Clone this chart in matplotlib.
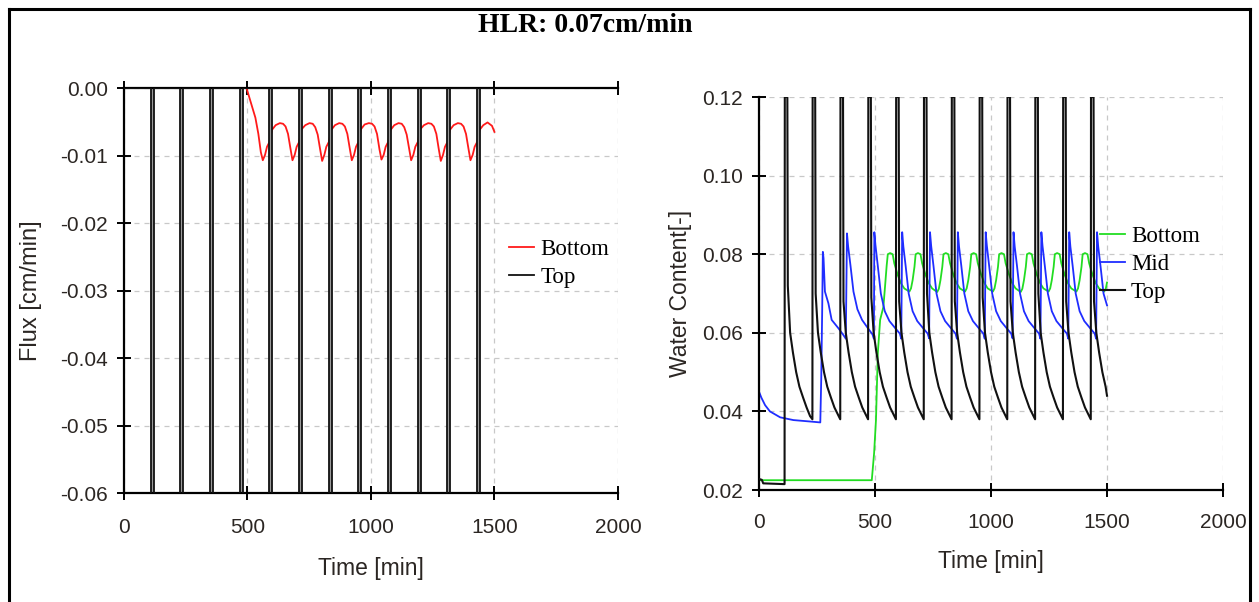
import matplotlib

matplotlib.use("Agg")
import matplotlib.pyplot as plt
from matplotlib.lines import Line2D
from matplotlib.ticker import FormatStrFormatter, MultipleLocator


COLORS = {
    "bottom_flux": "#ff1a1a",
    "top": "#111111",
    "pulse_fill": "#9a9a9a",
    "bottom_wc": "#22dd22",
    "mid_wc": "#1f2dff",
    "grid": "#c8c8c8",
    "text": "#2b2623",
}

TITLE = "HLR: 0.07cm/min"

# left panel: flux [cm/min] vs time [min]
TOP_FLUX_T = [
    0,
    110, 110, 122, 122,
    230, 230, 242, 242,
    350, 350, 362, 362,
    470, 470, 482, 482,
    590, 590, 602, 602,
    710, 710, 722, 722,
    830, 830, 842, 842,
    950, 950, 962, 962,
    1070, 1070, 1082, 1082,
    1190, 1190, 1202, 1202,
    1310, 1310, 1322, 1322,
    1430, 1430, 1442, 1442,
    1500,
]
TOP_FLUX_Q = [
    0.0,
    0.0, -0.07, -0.07, 0.0,
    0.0, -0.07, -0.07, 0.0,
    0.0, -0.07, -0.07, 0.0,
    0.0, -0.07, -0.07, 0.0,
    0.0, -0.07, -0.07, 0.0,
    0.0, -0.07, -0.07, 0.0,
    0.0, -0.07, -0.07, 0.0,
    0.0, -0.07, -0.07, 0.0,
    0.0, -0.07, -0.07, 0.0,
    0.0, -0.07, -0.07, 0.0,
    0.0, -0.07, -0.07, 0.0,
    0.0, -0.07, -0.07, 0.0,
    0.0,
]

BOTTOM_FLUX_T = [
    497, 515, 533, 545, 555, 563, 572, 580,
    590, 600, 615, 632, 645, 655, 665, 675, 683, 692, 700,
    710, 720, 735, 752, 765, 775, 785, 795, 803, 812, 820,
    830, 840, 855, 872, 885, 895, 905, 915, 923, 932, 940,
    950, 960, 975, 992, 1005, 1015, 1025, 1035, 1043, 1052, 1060,
    1070, 1080, 1095, 1112, 1125, 1135, 1145, 1155, 1163, 1172, 1180,
    1190, 1200, 1215, 1232, 1245, 1255, 1265, 1275, 1283, 1292, 1300,
    1310, 1320, 1335, 1352, 1365, 1375, 1385, 1395, 1403, 1412, 1420,
    1430, 1440, 1455, 1472, 1490, 1500,
]
BOTTOM_FLUX_Q = [
    0.0, -0.0022, -0.0044, -0.0068, -0.0095, -0.0107, -0.0099, -0.0087,
    -0.0080, -0.0062, -0.0055, -0.0052, -0.0053, -0.0057, -0.0068, -0.0090, -0.0107, -0.0099, -0.0087,
    -0.0080, -0.0061, -0.0055, -0.0052, -0.0053, -0.0058, -0.0069, -0.0091, -0.0108, -0.0099, -0.0087,
    -0.0080, -0.0062, -0.0055, -0.0052, -0.0053, -0.0057, -0.0068, -0.0090, -0.0107, -0.0099, -0.0087,
    -0.0080, -0.0061, -0.0054, -0.0052, -0.0053, -0.0057, -0.0068, -0.0091, -0.0106, -0.0099, -0.0087,
    -0.0080, -0.0062, -0.0055, -0.0052, -0.0053, -0.0058, -0.0069, -0.0090, -0.0107, -0.0099, -0.0087,
    -0.0080, -0.0061, -0.0055, -0.0052, -0.0053, -0.0057, -0.0068, -0.0091, -0.0108, -0.0099, -0.0087,
    -0.0080, -0.0062, -0.0055, -0.0052, -0.0053, -0.0057, -0.0068, -0.0090, -0.0107, -0.0099, -0.0087,
    -0.0080, -0.0062, -0.0055, -0.0051, -0.0056, -0.0065,
]

# right panel: water content [-] vs time [min]
TOP_WC_T = [
    0, 12, 18, 110, 111, 122, 124, 134, 146, 160, 174, 190, 205, 220,
    230, 231, 242, 244, 254, 266, 280, 294, 310, 325, 340,
    350, 351, 362, 364, 374, 386, 400, 414, 430, 445, 460,
    470, 471, 482, 484, 494, 506, 520, 534, 550, 565, 580,
    590, 591, 602, 604, 614, 626, 640, 654, 670, 685, 700,
    710, 711, 722, 724, 734, 746, 760, 774, 790, 805, 820,
    830, 831, 842, 844, 854, 866, 880, 894, 910, 925, 940,
    950, 951, 962, 964, 974, 986, 1000, 1014, 1030, 1045, 1060,
    1070, 1071, 1082, 1084, 1094, 1106, 1120, 1134, 1150, 1165, 1180,
    1190, 1191, 1202, 1204, 1214, 1226, 1240, 1254, 1270, 1285, 1300,
    1310, 1311, 1322, 1324, 1334, 1346, 1360, 1374, 1390, 1405, 1420,
    1430, 1431, 1442, 1444, 1454, 1466, 1480, 1494, 1500,
]
TOP_WC = [
    0.0228, 0.0226, 0.0217, 0.0215, 0.120, 0.120, 0.072, 0.060, 0.055, 0.050, 0.0463, 0.0435, 0.0410, 0.0388,
    0.0380, 0.120, 0.120, 0.070, 0.060, 0.055, 0.050, 0.0463, 0.0435, 0.0410, 0.0392,
    0.0380, 0.120, 0.120, 0.068, 0.060, 0.055, 0.050, 0.0463, 0.0435, 0.0410, 0.0392,
    0.0380, 0.120, 0.120, 0.069, 0.060, 0.055, 0.050, 0.0463, 0.0435, 0.0410, 0.0392,
    0.0380, 0.120, 0.120, 0.068, 0.060, 0.055, 0.050, 0.0463, 0.0435, 0.0410, 0.0392,
    0.0380, 0.120, 0.120, 0.070, 0.060, 0.055, 0.050, 0.0463, 0.0435, 0.0410, 0.0392,
    0.0380, 0.120, 0.120, 0.068, 0.060, 0.055, 0.050, 0.0463, 0.0435, 0.0410, 0.0392,
    0.0380, 0.120, 0.120, 0.069, 0.060, 0.055, 0.050, 0.0463, 0.0435, 0.0410, 0.0392,
    0.0380, 0.120, 0.120, 0.068, 0.060, 0.055, 0.050, 0.0463, 0.0435, 0.0410, 0.0392,
    0.0380, 0.120, 0.120, 0.070, 0.060, 0.055, 0.050, 0.0463, 0.0435, 0.0410, 0.0392,
    0.0380, 0.120, 0.120, 0.068, 0.060, 0.055, 0.050, 0.0463, 0.0435, 0.0410, 0.0392,
    0.0380, 0.120, 0.120, 0.068, 0.060, 0.055, 0.050, 0.0463, 0.0440,
]

MID_WC_T = [
    0, 10, 26, 47, 91, 148, 227, 264, 268, 272, 275, 278, 284, 299, 313, 343, 364, 374,
    379, 384, 394, 407, 424, 444, 469, 489, 495,
    497, 502, 512, 525, 542, 562, 587, 607, 613,
    617, 622, 632, 645, 662, 682, 707, 727, 733,
    737, 742, 752, 765, 782, 802, 827, 847, 853,
    857, 862, 872, 885, 902, 922, 947, 967, 973,
    977, 982, 992, 1005, 1022, 1042, 1067, 1087, 1093,
    1097, 1102, 1112, 1125, 1142, 1162, 1187, 1207, 1213,
    1217, 1222, 1232, 1245, 1262, 1282, 1307, 1327, 1333,
    1337, 1342, 1352, 1365, 1382, 1402, 1427, 1447, 1453,
    1457, 1462, 1472, 1485, 1500,
]
MID_WC = [
    0.0450, 0.0435, 0.0416, 0.0400, 0.0385, 0.0378, 0.0374, 0.0372, 0.0480, 0.0650, 0.0806, 0.0790,
    0.0705, 0.0675, 0.0633, 0.0611, 0.0594, 0.0585,
    0.0853, 0.0820, 0.0772, 0.0705, 0.0660, 0.0633, 0.0612, 0.0596, 0.0585,
    0.0856, 0.0822, 0.0770, 0.0700, 0.0655, 0.0630, 0.0612, 0.0598, 0.0585,
    0.0856, 0.0820, 0.0770, 0.0700, 0.0655, 0.0630, 0.0612, 0.0598, 0.0586,
    0.0856, 0.0821, 0.0770, 0.0700, 0.0655, 0.0630, 0.0612, 0.0598, 0.0585,
    0.0856, 0.0820, 0.0770, 0.0700, 0.0655, 0.0630, 0.0612, 0.0598, 0.0585,
    0.0856, 0.0822, 0.0770, 0.0700, 0.0655, 0.0630, 0.0612, 0.0598, 0.0586,
    0.0856, 0.0820, 0.0770, 0.0700, 0.0655, 0.0630, 0.0612, 0.0598, 0.0585,
    0.0856, 0.0821, 0.0770, 0.0700, 0.0655, 0.0630, 0.0612, 0.0598, 0.0585,
    0.0856, 0.0820, 0.0770, 0.0700, 0.0655, 0.0630, 0.0612, 0.0598, 0.0585,
    0.0856, 0.0820, 0.0770, 0.0700, 0.0670,
]

BOTTOM_WC_T = [
    0, 486, 496, 504, 512, 522, 536, 543, 550,
    555, 565, 576, 583, 598, 612, 626, 648, 655, 662, 670,
    675, 685, 696, 703, 718, 732, 746, 768, 775, 782, 790,
    795, 805, 816, 823, 838, 852, 866, 888, 895, 902, 910,
    915, 925, 936, 943, 958, 972, 986, 1008, 1015, 1022, 1030,
    1035, 1045, 1056, 1063, 1078, 1092, 1106, 1128, 1135, 1142, 1150,
    1155, 1165, 1176, 1183, 1198, 1212, 1226, 1248, 1255, 1262, 1270,
    1275, 1285, 1296, 1303, 1318, 1332, 1346, 1368, 1375, 1382, 1390,
    1395, 1405, 1416, 1423, 1438, 1452, 1466, 1488, 1495, 1500,
]
BOTTOM_WC = [
    0.0225, 0.0225, 0.0294, 0.0378, 0.0549, 0.0633, 0.0666, 0.0717, 0.0770,
    0.0800, 0.0803, 0.0800, 0.0777, 0.0747, 0.0726, 0.0713, 0.0705, 0.0713, 0.0734, 0.0768,
    0.0800, 0.0803, 0.0800, 0.0777, 0.0747, 0.0726, 0.0713, 0.0704, 0.0712, 0.0734, 0.0768,
    0.0800, 0.0803, 0.0800, 0.0778, 0.0747, 0.0726, 0.0713, 0.0705, 0.0713, 0.0734, 0.0768,
    0.0800, 0.0803, 0.0800, 0.0777, 0.0747, 0.0726, 0.0713, 0.0705, 0.0713, 0.0734, 0.0768,
    0.0800, 0.0803, 0.0800, 0.0777, 0.0748, 0.0726, 0.0713, 0.0704, 0.0712, 0.0734, 0.0768,
    0.0800, 0.0803, 0.0800, 0.0777, 0.0747, 0.0726, 0.0713, 0.0705, 0.0713, 0.0734, 0.0768,
    0.0800, 0.0803, 0.0800, 0.0777, 0.0747, 0.0726, 0.0713, 0.0705, 0.0713, 0.0734, 0.0768,
    0.0800, 0.0803, 0.0800, 0.0777, 0.0747, 0.0726, 0.0713, 0.0705, 0.0713, 0.0728,
]

X_TICKS = [0, 500, 1000, 1500, 2000]

SANS = "Liberation Sans"
SERIF = "Liberation Serif"


def style_axes(ax, top_line: bool, xpad: float) -> None:
    ax.set_xlim(0, 2000)
    ax.set_xticks(X_TICKS)
    ax.grid(True, color=COLORS["grid"], linestyle=(0, (4, 4)), linewidth=0.9)
    ax.set_axisbelow(True)
    for spine in ["left", "bottom", "top"]:
        ax.spines[spine].set_linewidth(1.6)
        ax.spines[spine].set_color("black")
    ax.spines["right"].set_visible(False)
    ax.spines["top"].set_visible(top_line)
    ax.tick_params(axis="both", direction="inout", length=10, width=1.4, colors="black",
                   labelcolor=COLORS["text"], labelsize=15)
    ax.tick_params(axis="x", pad=xpad, top=top_line)
    ax.tick_params(axis="y", pad=6.5)
    for label in ax.get_xticklabels() + ax.get_yticklabels():
        label.set_family(SANS)
    ax.yaxis.set_major_formatter(FormatStrFormatter("%.2f"))


def add_legend(ax, anchor) -> None:
    ax.legend(loc="center left", bbox_to_anchor=anchor, frameon=False,
              prop={"family": SERIF, "size": 16.5}, handlelength=1.1, handletextpad=0.25,
              labelspacing=0.3, borderpad=0, borderaxespad=0)


def plot_flux(fig) -> None:
    ax = fig.add_axes([0.0982, 0.181, 0.3927, 0.6728])
    ax.plot(BOTTOM_FLUX_T, BOTTOM_FLUX_Q, color=COLORS["bottom_flux"], linewidth=1.3, label="Bottom", zorder=2)
    ax.fill_between(TOP_FLUX_T, TOP_FLUX_Q, 0, color=COLORS["pulse_fill"], linewidth=0, zorder=2.5)
    ax.plot(TOP_FLUX_T, TOP_FLUX_Q, color=COLORS["top"], linewidth=1.3, label="Top", zorder=3)
    ax.set_ylim(-0.06, 0.0)
    ax.yaxis.set_major_locator(MultipleLocator(0.01))
    style_axes(ax, top_line=True, xpad=13)
    ax.set_xlabel("Time [min]", fontsize=16.5, family=SANS, color=COLORS["text"])
    ax.set_ylabel("Flux [cm/min]", fontsize=17, family=SANS, color=COLORS["text"])
    ax.xaxis.set_label_coords(0.5, -0.158)
    ax.yaxis.set_label_coords(-0.165, 0.5)
    add_legend(ax, (0.78, 0.567))


def plot_water_content(fig) -> None:
    ax = fig.add_axes([0.6029, 0.186, 0.3685, 0.6528])
    ax.plot(BOTTOM_WC_T, BOTTOM_WC, color=COLORS["bottom_wc"], linewidth=1.3, label="Bottom", zorder=2)
    ax.plot(MID_WC_T, MID_WC, color=COLORS["mid_wc"], linewidth=1.3, label="Mid", zorder=2)
    ax.plot(TOP_WC_T, TOP_WC, color=COLORS["top"], linewidth=1.5, label="Top", zorder=3)
    ax.set_ylim(0.02, 0.12)
    ax.yaxis.set_major_locator(MultipleLocator(0.02))
    style_axes(ax, top_line=False, xpad=11.5)
    ax.set_xlabel("Time [min]", fontsize=16.5, family=SANS, color=COLORS["text"])
    ax.set_ylabel("Water Content[-]", fontsize=16.5, family=SANS, color=COLORS["text"])
    ax.xaxis.set_label_coords(0.5, -0.152)
    ax.yaxis.set_label_coords(-0.145, 0.5)
    add_legend(ax, (0.735, 0.574))


def draw_border(fig) -> None:
    left, right, top = 9 / 1259, 1250 / 1259, 1 - 9 / 602
    for xs, ys in [([left, left], [0, top]), ([left, right], [top, top]), ([right, right], [0, top])]:
        fig.add_artist(Line2D(xs, ys, transform=fig.transFigure, color="black", linewidth=2.2))


def main() -> None:
    plt.rcParams["axes.unicode_minus"] = False
    fig = plt.figure(figsize=(12.59, 6.02), dpi=100)
    fig.patch.set_facecolor("white")
    fig.text(0.4647, 0.958, TITLE, ha="center", va="center", fontsize=20, fontweight="bold", family=SERIF)
    plot_flux(fig)
    plot_water_content(fig)
    draw_border(fig)
    fig.savefig("out.png", dpi=100)
    plt.close(fig)


if __name__ == "__main__":
    main()
